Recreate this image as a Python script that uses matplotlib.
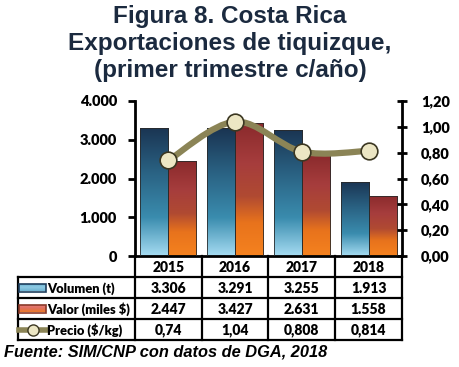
import numpy as np
import matplotlib
matplotlib.use("Agg")
import matplotlib.pyplot as plt
from matplotlib.colors import LinearSegmentedColormap
from matplotlib.path import Path
from matplotlib.patches import PathPatch, Rectangle
from matplotlib.lines import Line2D

years = ["2015", "2016", "2017", "2018"]
volumen = [3306, 3291, 3255, 1913]
valor = [2447, 3427, 2631, 1558]
precio = [0.74, 1.04, 0.808, 0.814]
volumen_txt = ["3.306", "3.291", "3.255", "1.913"]
valor_txt = ["2.447", "3.427", "2.631", "1.558"]
precio_txt = ["0,74", "1,04", "0,808", "0,814"]
left_ticks = [0, 1000, 2000, 3000, 4000]
left_labels = ["0", "1.000", "2.000", "3.000", "4.000"]
right_ticks = [0, 0.2, 0.4, 0.6, 0.8, 1.0, 1.2]
right_labels = ["0,00", "0,20", "0,40", "0,60", "0,80", "1,00", "1,20"]
row_labels = ["Volumen (t)", "Valor (miles $)", "Precio ($/kg)"]

W, H = 460, 367
blue_cmap = LinearSegmentedColormap.from_list(
    "vol", [(0, "#1a3452"), (0.35, "#2a6283"), (0.7, "#3a8cae"), (1, "#a6dcf2")])
red_cmap = LinearSegmentedColormap.from_list(
    "val", [(0, "#8a2a2c"), (0.3, "#a63d3d"), (0.55, "#b04a32"), (0.75, "#e8731c"), (1, "#f5821f")])
blue_key = LinearSegmentedColormap.from_list("vk", ["#5fa9c9", "#8fcbe4", "#6fb4d2"])
red_key = LinearSegmentedColormap.from_list("rk", ["#e88080", "#e07060", "#ea7a2a"])
line_col = "#8b8456"
font = "Lato"
wt = "heavy"

fig = plt.figure(figsize=(W / 100, H / 100), dpi=100)

# pixel geometry
ax_l, ax_r, ax_b, ax_t = 135, 402, 256, 101
ax = fig.add_axes([ax_l / W, 1 - ax_b / H, (ax_r - ax_l) / W, (ax_b - ax_t) / H])

x = np.arange(len(years))
bw = 0.42


def gradient_bars(xs, vals, cmap):
    bars = ax.bar(xs, vals, bw, facecolor="none", edgecolor="#2a2a2a", linewidth=0.6, zorder=3)
    grad = np.linspace(0, 1, 256).reshape(-1, 1)
    for b in bars:
        x0, w, h = b.get_x(), b.get_width(), b.get_height()
        im = ax.imshow(grad, cmap=cmap, extent=[x0, x0 + w, 0, h], origin="upper",
                       aspect="auto", zorder=2)
        im.set_clip_path(b)
    return bars


gradient_bars(x - bw / 2, volumen, blue_cmap)
gradient_bars(x + bw / 2, valor, red_cmap)

ax.set_xlim(-0.5, len(years) - 0.5)
ax.set_ylim(0, 4000)
ax.set_yticks(left_ticks)
ax.set_yticklabels(left_labels)
ax.set_xticks([])
for s in ["top", "right"]:
    ax.spines[s].set_visible(False)
ax.spines["left"].set_linewidth(2)
ax.spines["bottom"].set_linewidth(2)
ax.tick_params(axis="y", length=5, width=2, pad=8, labelsize=10.5)
for t in ax.get_yticklabels():
    t.set_fontweight(wt)
    t.set_family(font)

ax2 = ax.twinx()
ax2.set_ylim(0, 1.2)
ax2.set_yticks(right_ticks)
ax2.set_yticklabels(right_labels)
for s in ["top", "left", "bottom"]:
    ax2.spines[s].set_visible(False)
ax2.spines["right"].set_linewidth(2)
ax2.tick_params(axis="y", length=7, width=2, direction="inout", pad=10, labelsize=10.5)
for t in ax2.get_yticklabels():
    t.set_fontweight(wt)
    t.set_family(font)

# smoothed price line (bezier through the points)
pts = np.column_stack([x, precio]).astype(float)
verts = [tuple(pts[0])]
codes = [Path.MOVETO]
for i in range(len(pts) - 1):
    p0 = pts[i - 1] if i > 0 else pts[i]
    p3 = pts[i + 2] if i + 2 < len(pts) else pts[i + 1]
    c1 = pts[i] + (pts[i + 1] - p0) / 6
    c2 = pts[i + 1] - (p3 - pts[i]) / 6
    verts += [tuple(c1), tuple(c2), tuple(pts[i + 1])]
    codes += [Path.CURVE4] * 3
ax2.add_patch(PathPatch(Path(verts, codes), facecolor="none", edgecolor=line_col,
                        linewidth=4.5, zorder=4, capstyle="round"))
ax2.plot(x, precio, "o", ms=12, mfc="#ece6c4", mec="#3b3722", mew=1.2, zorder=5)

# data table
tl = 18
rows_y = [256, 277, 298, 319, 340]
tab = fig.add_axes([0, 0, 1, 1])
tab.axis("off")
col_w = (ax_r - ax_l) / len(years)
cols = [ax_l + i * col_w for i in range(len(years) + 1)]
lw = 1.6
for cx in cols:
    tab.plot([cx, cx], [rows_y[0], rows_y[-1]], color="black", lw=lw)
tab.plot([tl, tl], [rows_y[1], rows_y[-1]], color="black", lw=lw)
for ry in rows_y[1:]:
    tab.plot([tl, ax_r], [ry, ry], color="black", lw=lw)

for j, yr in enumerate(years):
    cx = (cols[j] + cols[j + 1]) / 2
    tab.text(cx, (rows_y[0] + rows_y[1]) / 2 + 1, yr, ha="center", va="center",
             fontsize=10, fontweight=wt, family=font)
    for r, vals in enumerate([volumen_txt, valor_txt, precio_txt]):
        tab.text(cx, (rows_y[r + 1] + rows_y[r + 2]) / 2 + 1, vals[j], ha="center",
                 va="center", fontsize=10, fontweight=wt, family=font)

for r, lab in enumerate(row_labels):
    cy = (rows_y[r + 1] + rows_y[r + 2]) / 2
    tab.text(47, cy + 1, lab, ha="left", va="center", fontsize=9.3, fontweight=wt,
             family=font)

# legend keys
grad = np.linspace(0, 1, 64).reshape(-1, 1)
for r, (cmap, ec) in enumerate([(blue_key, "#1f3f5e"), (red_key, "#8a3a2a")]):
    cy = (rows_y[r + 1] + rows_y[r + 2]) / 2
    rect = Rectangle((19, cy - 4), 27, 8, facecolor="none", edgecolor=ec, lw=1.2, zorder=3)
    tab.add_patch(rect)
    im = tab.imshow(grad, cmap=cmap, extent=[19, 46, cy + 4, cy - 4], origin="upper",
                    aspect="auto", zorder=2)
    im.set_clip_path(rect)
cy = (rows_y[3] + rows_y[4]) / 2
tab.add_line(Line2D([19, 47], [cy, cy], color=line_col, lw=4))
tab.plot([33], [cy], "o", ms=8, mfc="#ece6c4", mec="#3b3722", mew=1)
tab.set_xlim(0, W)
tab.set_ylim(H, 0)

fig.text(230 / W, 1 - 5 / H,
         "Figura 8. Costa Rica\nExportaciones de tiquizque,\n(primer trimestre c/año)",
         ha="center", va="top", fontsize=17.5, fontweight="bold", color="#1b2a3f",
         family="Liberation Sans", linespacing=1.22)
fig.text(4 / W, 1 - 352 / H, "Fuente: SIM/CNP con datos de DGA, 2018", ha="left",
         va="center", fontsize=11.8, fontweight="bold", style="italic", color="black",
         family="Liberation Sans")

fig.savefig("out.png", dpi=100)
